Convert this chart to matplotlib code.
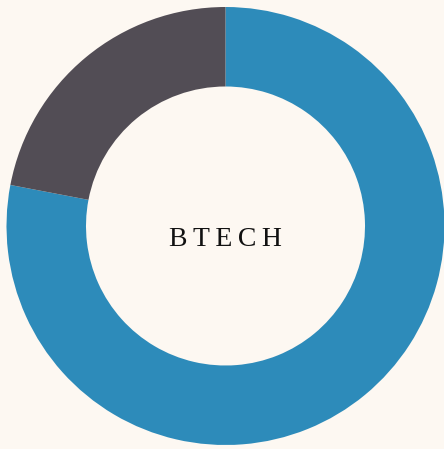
import matplotlib
matplotlib.use("Agg")
import matplotlib.pyplot as plt

labels = ["BTECH", "Other"]
values = [78, 22]
colors = ["#2d8bba", "#524d55"]
center_label = "BTECH"

bg = "#fdf8f2"
fig = plt.figure(figsize=(4.44, 4.49), dpi=100, facecolor=bg)
ax = fig.add_axes([0, 0, 1, 1])
ax.set_facecolor(bg)

ax.pie(values, colors=colors, startangle=90, counterclock=False,
       radius=1.0, wedgeprops=dict(width=0.363, linewidth=0))

# centre ~ (225.5, 226) px from top-left, outer radius ~219 px
r = 219.0
ax.set_xlim(-225.5 / r, (444 - 225.5) / r)
ax.set_ylim(-(449 - 226) / r, 226 / r)
ax.set_aspect("equal")
ax.axis("off")

# letter-spaced centre label
ax.text(0, -0.06, "\u2009".join(center_label), ha="center", va="center",
        fontsize=20, family=["Liberation Serif", "DejaVu Serif"],
        color="#111111")

fig.savefig("out.png", dpi=100, facecolor=bg)
